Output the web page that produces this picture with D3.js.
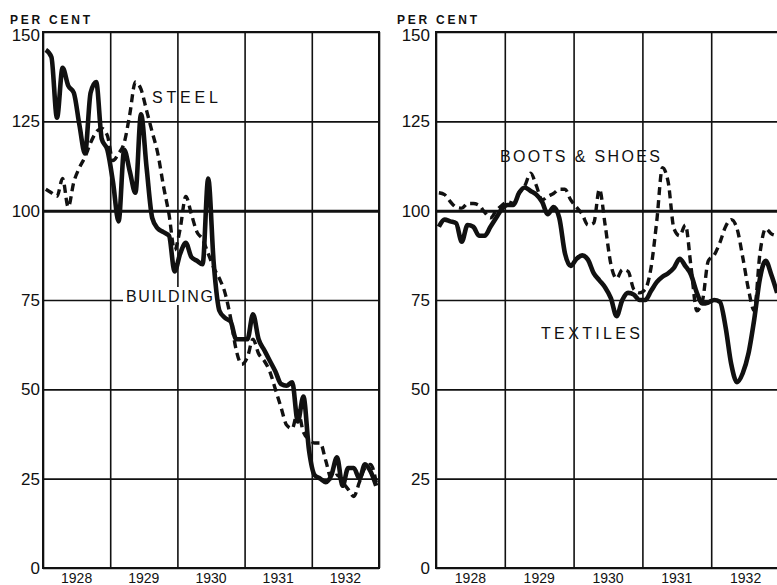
<!DOCTYPE html>
<html><head><meta charset="utf-8">
<script src="https://cdn.jsdelivr.net/npm/d3@7"></script>
<style>body{margin:0;background:#fff}svg{display:block}</style>
</head><body>
<svg id="chart" width="777" height="585"></svg>
<script>
const years = ["1928","1929","1930","1931","1932"];
const yTicks = [0,25,50,75,100,125,150];
// monthly indices, Jan 1928 .. Dec 1932
const building = [145,143,126,140,135,133,124,116,133,136,120,117,
  108,97,117,111,105,127,112,98,95,94,93,83,
  88,91,87,86,85,109,85,72,70,69,64,64,
  64,71,64,61,58,55,51.5,51,52,41,48,33,
  26,25,24,26,31,23,28,28,25,29,27,23];
const steel = [106,105,104,109,101,108,112,115,119,122,123,121,
  114,116,119,127,136,134,128,122,116,107,99,89,
  95,104,99,94,92,88,84,81,77,70,61,57,
  59,64,60,58,55,50,45,40,39,44,38,36,
  35,35,30,25,26,24,22,20,24,28,29,24];
const boots = [105,104.5,102.5,101,100.7,102,102,101.5,99.5,98,100,101.5,
  102.5,102,105,107,110.5,107,103,104,104.8,106,106,103,
  101,99,96,96.5,106,96,85,81,83.5,83,78,77,
  78,84,97,112,108,95,93,96,84,72,75,86,
  87.5,91,95.5,97.5,95,87,78,72,88,95,93.5,93];
const textiles = [95.5,97.5,97,96.5,91.3,96,95.5,93,93,95.5,98,100.5,
  101.6,101.6,105,106.5,105.5,104.5,102.5,99,101,98,88,84.5,
  86.5,87.5,86.3,82.5,80.5,78.5,75.5,70.5,75,77,76.5,75,
  75,77.5,80,81.5,82.5,84,86.5,84.5,82,77,74,74.3,
  75,74.5,67.5,57,52,54.5,60,69.5,81,86,82,77];

(function(){
const svg = d3.select("#chart");
const FONT = "'Liberation Sans', Arial, sans-serif";
const plotTop = 32, plotBottom = 568;

const panels = [
  {left:43, right:379, labelX:40, perX:10,
   series:[{d:steel,dash:true},{d:building,dash:false}],
   labels:[{t:"STEEL",x:152,y:103,w:66,bg:false},{t:"BUILDING",x:126,y:302,w:87,bg:true}]},
  {left:436, right:780, labelX:430, perX:397,
   series:[{d:boots,dash:true},{d:textiles,dash:false}],
   labels:[{t:"BOOTS & SHOES",x:500,y:162,w:160,bg:false},{t:"TEXTILES",x:541,y:339,w:99,bg:false}]}
];

const y = d3.scaleLinear().domain([0,150]).range([plotBottom, plotTop]);

panels.forEach(p => {
  const g = svg.append("g");
  const x = d3.scaleLinear().domain([0,60]).range([p.left, p.right]);
  const xb = d3.scaleBand().domain(years).range([p.left, p.right]);

  g.append("g").attr("transform",`translate(${p.left},0)`)
    .call(d3.axisLeft(y).tickValues(yTicks).tickSize(-(p.right-p.left)).tickFormat(""))
    .call(a=>a.select(".domain").remove())
    .call(a=>a.selectAll("line").attr("stroke","#111")
      .attr("stroke-width",d=>d===100?3:1.6));
  g.append("g").attr("transform",`translate(0,${plotBottom})`)
    .call(d3.axisBottom(x).tickValues([0,12,24,36,48,60]).tickSize(-(plotBottom-plotTop)).tickFormat(""))
    .call(a=>a.select(".domain").remove())
    .call(a=>a.selectAll("line").attr("stroke","#111").attr("stroke-width",1.6));

  g.selectAll("text.yl").data(yTicks).join("text").attr("class","yl")
    .attr("x",p.labelX).attr("y",d=>y(d)+ (d===150?3:0)).attr("dy","0.36em")
    .attr("text-anchor","end").attr("font-family",FONT).attr("font-size",17)
    .attr("fill","#111").text(d=>d);
  g.append("g").attr("transform",`translate(0,${plotBottom})`)
    .call(d3.axisBottom(xb).tickSize(0).tickPadding(0))
    .call(a=>a.select(".domain").remove())
    .call(a=>a.selectAll("text").attr("dy",null).attr("y",15)
      .attr("font-family",FONT).attr("font-size",14).attr("fill","#111"));
  g.append("text").attr("x",p.perX).attr("y",24).attr("font-family",FONT)
    .attr("font-size",12).attr("font-weight","bold").attr("fill","#111")
    .attr("textLength",80).attr("lengthAdjust","spacing").text("PER CENT");

  p.labels.forEach(l => {
    if (l.bg) g.append("rect").attr("x",l.x-3).attr("y",l.y-15).attr("width",l.w+6).attr("height",18).attr("fill","#fff");
    g.append("text").attr("x",l.x).attr("y",l.y).attr("font-family",FONT).attr("font-size",16)
      .attr("fill","#111").attr("textLength",l.w).attr("lengthAdjust","spacing").text(l.t);
  });

  const line = d3.line().x((d,i)=>x(i+0.5)).y(d=>y(d)).curve(d3.curveMonotoneX);
  p.series.forEach(s => {
    g.append("path").datum(s.d).attr("d",line).attr("fill","none").attr("stroke","#111")
      .attr("stroke-width",s.dash?3.4:4.6).attr("stroke-linejoin","round")
      .attr("stroke-dasharray",s.dash?"8,5":null);
  });

  g.append("rect").attr("x",p.left).attr("y",plotTop).attr("width",p.right-p.left).attr("height",plotBottom-plotTop)
    .attr("fill","none").attr("stroke","#111").attr("stroke-width",2);
});
})();
</script>
</body></html>
